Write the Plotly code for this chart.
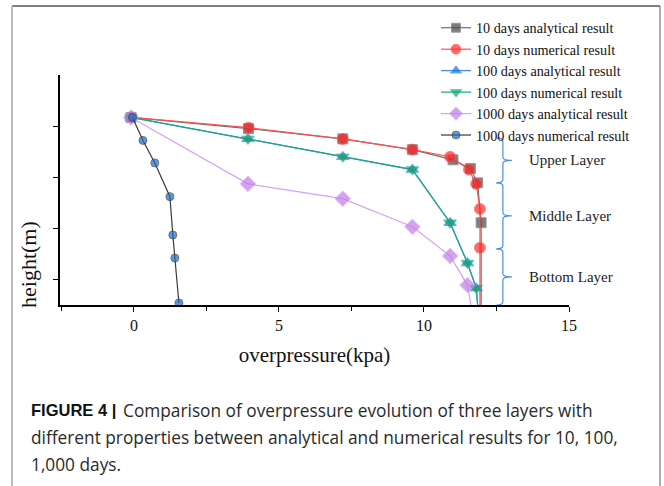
import plotly.graph_objects as go

# ---------------- data ----------------
d10_ana_x = [-0.1, 3.95, 7.2, 9.6, 11.0, 11.6, 11.85, 11.97, 11.97]
d10_ana_y = [3.67, 3.45, 3.25, 3.04, 2.84, 2.67, 2.39, 1.61, 0.0]

d10_num_x = [-0.1, 3.95, 7.2, 9.6, 10.9, 11.55, 11.8, 11.93, 11.93, 11.93]
d10_num_y = [3.67, 3.47, 3.25, 3.04, 2.90, 2.65, 2.37, 1.88, 1.12, 0.0]

d100_ana_x = [-0.1, 3.93, 7.2, 9.6, 10.9, 11.5, 11.8, 11.85]
d100_ana_y = [3.67, 3.25, 2.90, 2.65, 1.61, 0.82, 0.33, 0.0]

d100_num_x = [-0.1, 3.93, 7.2, 9.6, 10.9, 11.5, 11.8, 11.85]
d100_num_y = [3.67, 3.25, 2.90, 2.65, 1.61, 0.82, 0.33, 0.0]

d1000_ana_x = [-0.1, 3.93, 7.2, 9.6, 10.9, 11.5, 11.62]
d1000_ana_y = [3.67, 2.37, 2.08, 1.53, 0.96, 0.39, 0.0]

d1000_num_x = [-0.05, 0.31, 0.72, 1.24, 1.34, 1.41, 1.55]
d1000_num_y = [3.67, 3.22, 2.78, 2.12, 1.37, 0.92, 0.04]

legend_names = ["10 days analytical result", "10 days numerical result",
                "100 days analytical result", "100 days numerical result",
                "1000 days analytical result", "1000 days numerical result"]

x_ticks = [0, 5, 10, 15]
y_ticks = [0.5, 1.5, 2.5, 3.5]

layer_names = ["Upper Layer", "Middle Layer", "Bottom Layer"]
layer_bounds = [3.27, 2.39, 1.10, 0.0]

caption_label = "<b>FIGURE 4 |</b>"
caption_lines = ["Comparison of overpressure evolution of three layers with",
                 "different properties between analytical and numerical results for 10, 100,",
                 "1,000 days."]

# ---------------- figure ----------------
SERIF = "Liberation Serif, Times New Roman, serif"
SANS = "Liberation Sans, Arial, sans-serif"
CAP = "Open Sans, Liberation Sans, sans-serif"

def sizes(n, s, last_hidden=True):
    out = [s] * n
    if last_hidden:
        out[-1] = 0
    return out

fig = go.Figure()
fig.add_trace(go.Scatter(
    x=d10_ana_x, y=d10_ana_y, name=legend_names[0], mode="lines+markers",
    line=dict(color="#707070", width=1.2),
    marker=dict(symbol="square", color="#454545", size=sizes(len(d10_ana_x), 10))))
fig.add_trace(go.Scatter(
    x=d10_num_x, y=d10_num_y, name=legend_names[1], mode="lines+markers",
    line=dict(color="#ff5050", width=1.2),
    marker=dict(symbol="circle", color="#ff2828", size=sizes(len(d10_num_x), 11))))
fig.add_trace(go.Scatter(
    x=d100_ana_x, y=d100_ana_y, name=legend_names[2], mode="lines+markers",
    line=dict(color="#3a86e0", width=1.2),
    marker=dict(symbol="triangle-up", color="#1a6fd8", size=sizes(len(d100_ana_x), 11))))
fig.add_trace(go.Scatter(
    x=d100_num_x, y=d100_num_y, name=legend_names[3], mode="lines+markers",
    line=dict(color="#1aa88a", width=1.2),
    marker=dict(symbol="triangle-down", color="#16a35e", size=sizes(len(d100_num_x), 11))))
fig.add_trace(go.Scatter(
    x=d1000_ana_x, y=d1000_ana_y, name=legend_names[4], mode="lines+markers",
    line=dict(color="#d8a2f2", width=1.2),
    marker=dict(symbol="diamond", color="#c07ee6", size=sizes(len(d1000_ana_x), 12))))
fig.add_trace(go.Scatter(
    x=d1000_num_x, y=d1000_num_y, name=legend_names[5], mode="lines+markers",
    line=dict(color="#3a3a3a", width=1.2),
    marker=dict(symbol="circle", color="#1a6cc8", size=sizes(len(d1000_num_x), 8, False))))

# layer braces
spine = 12.72
tip = 13.03
hook = 0.22
bend = 0.06
shapes = []
for i in range(3):
    top, bot = layer_bounds[i], layer_bounds[i + 1]
    mid = (top + bot) / 2
    path = (f"M {spine - hook},{top} Q {spine},{top} {spine},{top - bend} "
            f"L {spine},{mid + bend} Q {spine},{mid} {tip},{mid} "
            f"Q {spine},{mid} {spine},{mid - bend} "
            f"L {spine},{bot + bend} Q {spine},{bot} {spine - hook},{bot}")
    shapes.append(dict(type="path", xref="x", yref="y", path=path,
                       line=dict(color="#4a8fe0", width=1.2)))
    fig.add_annotation(x=13.55, y=mid, xref="x", yref="y", text=layer_names[i],
                       showarrow=False, xanchor="left", yanchor="middle",
                       font=dict(family=SERIF, size=15, color="#222"))

# frame lines (paper coords)
PW, PH = 509.0, 230.0
def px(x):
    return (x - 60) / PW
def py(y):
    return (305 - y) / PH

shapes.append(dict(type="line", xref="paper", yref="paper", x0=px(12), x1=px(660),
                   y0=py(6), y1=py(6), line=dict(color="#555", width=1.5)))
shapes.append(dict(type="line", xref="paper", yref="paper", x0=px(12), x1=px(12),
                   y0=py(6), y1=py(490), line=dict(color="#bdbdbd", width=2)))
shapes.append(dict(type="line", xref="paper", yref="paper", x0=px(660), x1=px(660),
                   y0=py(6), y1=py(490), line=dict(color="#777", width=1.2)))

# y label
fig.add_annotation(x=px(28), y=py(265), xref="paper", yref="paper", text="height(m)",
                   textangle=-90, showarrow=False, xanchor="center", yanchor="middle",
                   font=dict(family=SERIF, size=22, color="#111"))

# caption
fig.add_annotation(x=px(29), y=py(410), xref="paper", yref="paper",
                   text=caption_label, showarrow=False, xanchor="left", yanchor="middle",
                   font=dict(family=SANS, size=16.5, color="#111"))
for i, line in enumerate(caption_lines):
    x0 = 121 if i == 0 else 29
    fig.add_annotation(x=px(x0), y=py(410 + 27 * i), xref="paper", yref="paper",
                       text=line, showarrow=False, xanchor="left", yanchor="middle",
                       font=dict(family=CAP, size=17.3, color="#2a2a2a"))

fig.update_layout(
    width=664, height=486,
    margin=dict(l=60, r=95, t=75, b=181),
    paper_bgcolor="white", plot_bgcolor="white",
    shapes=shapes,
    showlegend=True,
    legend=dict(x=px(436), y=py(12), xanchor="left", yanchor="top",
                bgcolor="rgba(0,0,0,0)", font=dict(family=SERIF, size=14.2, color="#111"),
                tracegroupgap=0, itemwidth=30),
    xaxis=dict(range=[-2.55, 15], showline=True, linecolor="black", linewidth=1.5,
               ticks="outside", ticklen=5, tickwidth=1.2, tickcolor="black",
               tickvals=x_ticks, showgrid=False, zeroline=False,
               minor=dict(dtick=2.5, tick0=0, ticks="outside", ticklen=4, tickcolor="black",
                          showgrid=False),
               tickfont=dict(family=SERIF, size=16, color="#111"),
               title=dict(text="overpressure(kpa)", standoff=14,
                          font=dict(family=SERIF, size=21, color="#111"))),
    yaxis=dict(range=[0, 4.5], showline=True, linecolor="black", linewidth=1.5,
               ticks="outside", ticklen=5, tickwidth=1.2, tickcolor="black",
               tickvals=y_ticks, showticklabels=False, showgrid=False, zeroline=False),
)

fig.write_html("out.html")
